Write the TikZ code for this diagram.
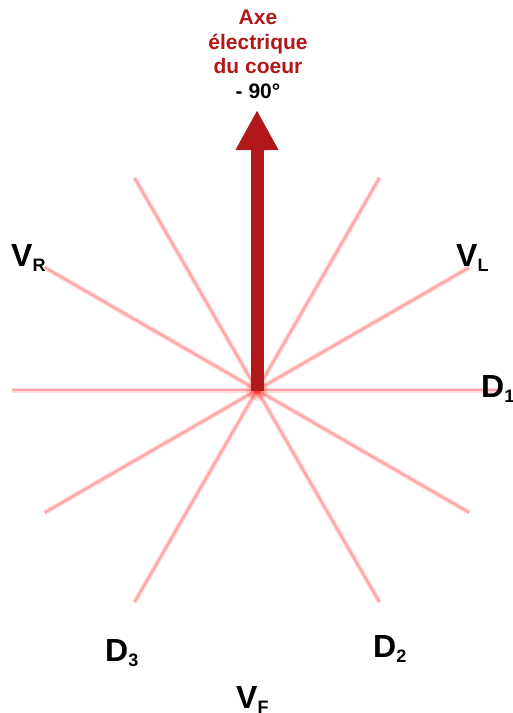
\documentclass[tikz,border=0pt]{standalone}
\usepackage{fontspec}
\setmainfont{Liberation Sans}
\usetikzlibrary{arrows.meta,positioning,calc}
\definecolor{axisRed}{RGB}{176,24,26}
\definecolor{rayPink}{RGB}{255,165,165}
\definecolor{rayGlow}{RGB}{255,218,218}
\newcommand{\leadlbl}[2]{{\fontsize{32}{32}\selectfont\bfseries #1}\raisebox{-5pt}{\fontsize{18}{18}\selectfont\bfseries #2}}
\tikzset{
  ray glow/.style={line width=5pt,draw=rayGlow},
  ray line/.style={line width=2.2pt,draw=rayPink},
  lead label/.style={anchor=base west,inner sep=0pt,text=black},
  heart axis/.style={line width=13pt,draw=axisRed,-{Triangle[width=40pt,length=40pt]}},
  title text/.style={anchor=base,align=center,inner sep=0pt,text=axisRed,font=\fontsize{21}{24.5}\selectfont\bfseries}
}
\begin{document}
\begin{tikzpicture}[x=1pt,y=-1pt]
  \useasboundingbox (0,0) rectangle (512,713);
  \coordinate (c) at (257,390);
  % rays every 30 degrees
  \foreach \a in {0,30,60,120,150,180,210,240,270,300,330}{
    \draw[ray glow] (c) -- ++(\a:245);
  }
  \foreach \a in {0,30,60,120,150,180,210,240,270,300,330}{
    \draw[ray line] (c) -- ++(\a:245);
  }
  \foreach \r/\o in {11/.12,8/.18,5/.3,3/.45}{
    \fill[red,opacity=\o] (c) circle (\r);
  }
  % electrical axis
  \coordinate (tip) at (257,110);
  \draw[heart axis] ($(c)+(0,1)$) -- (tip);
  \node[title text] (title) at (258,98) {Axe\\électrique\\du coeur\\\textcolor{black}{- 90°}};
  % lead names
  \node[lead label] (vr) at (11,266) {\leadlbl{V}{R}};
  \node[lead label] (vl) at (456,266) {\leadlbl{V}{L}};
  \node[lead label] (d1) at (481,397) {\leadlbl{D}{1}};
  \node[lead label] (d2) at (373,657) {\leadlbl{D}{2}};
  \node[lead label] (d3) at (105,661) {\leadlbl{D}{3}};
  \node[lead label] (vf) at (236,708) {\leadlbl{V}{F}};
\end{tikzpicture}
\end{document}
